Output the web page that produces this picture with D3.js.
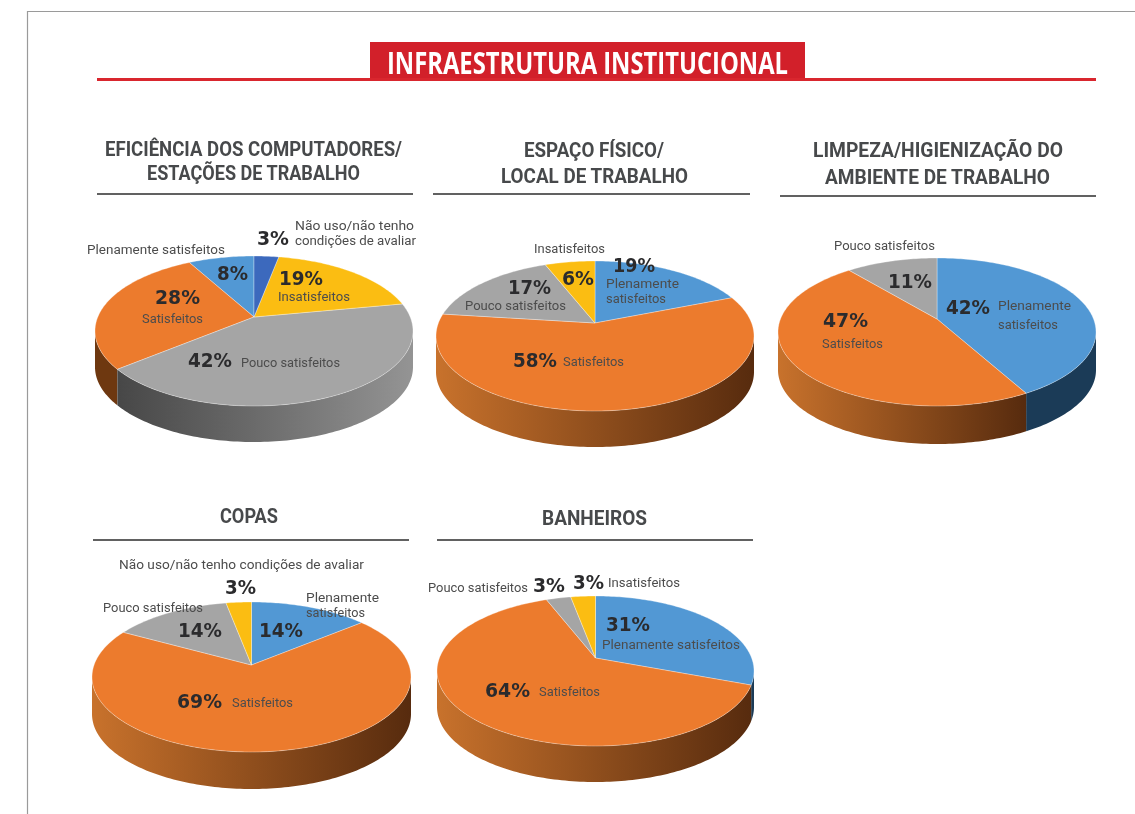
<!DOCTYPE html>
<html>
<head>
<meta charset="utf-8">
<script src="https://cdn.jsdelivr.net/npm/d3@7"></script>
<style>
  body { margin: 0; background: #fff; overflow: hidden; }
  #svg1 { filter: blur(0.4px); }
  .chart-title { font-family: Roboto, sans-serif; font-weight: 700; font-size: 20.5px; fill: #47494b; }
  .banner-title { font-family: "Open Sans", sans-serif; font-weight: 700; font-size: 30px; fill: #fff; }
  .pct { font-family: "DejaVu Sans", sans-serif; font-weight: 700; font-size: 20px; fill: #2b2b2d; }
  .name { font-family: Roboto, sans-serif; font-size: 12.5px; fill: #4c4c4c; }
</style>
</head>
<body>
<svg id="svg1" width="1135" height="814"></svg>
<script>
var bannerTitle = "INFRAESTRUTURA INSTITUCIONAL";

var PLENO = "Plenamente satisfeitos";
var SATISF = "Satisfeitos";
var POUCO = "Pouco satisfeitos";
var INSAT = "Insatisfeitos";
var NAOUSO = "Não uso/não tenho condições de avaliar";

var titles = [
  ["EFICIÊNCIA DOS COMPUTADORES/", "ESTAÇÕES DE TRABALHO"],
  ["ESPAÇO FÍSICO/", "LOCAL DE TRABALHO"],
  ["LIMPEZA/HIGIENIZAÇÃO DO", "AMBIENTE DE TRABALHO"],
  ["COPAS"],
  ["BANHEIROS"]
];

var categories = [
  [PLENO, SATISF, POUCO, INSAT, NAOUSO],
  [PLENO, SATISF, POUCO, INSAT],
  [PLENO, SATISF, POUCO],
  [PLENO, SATISF, POUCO, NAOUSO],
  [PLENO, SATISF, POUCO, INSAT]
];

var values = [
  [8, 28, 42, 19, 3],
  [19, 58, 17, 6],
  [42, 47, 11],
  [14, 69, 14, 3],
  [31, 64, 3, 3]
];

var palette = ["#5298d4", "#ec7b2d", "#a5a5a5", "#fbbd12", "#3c69bd"];

// layout of each pie: ellipse extremes and where the slices meet
var pies = [
  {left: 95, right: 413, top: 256, apex: 317, bottom: 406, depth: 36, dir: -1,
   rule: [97, 413, 194], titleBox: [[105, 402, 156], [147, 360, 180]]},
  {left: 436, right: 754, top: 261, apex: 323, bottom: 411, depth: 36, dir: 1,
   rule: [433, 750, 194], titleBox: [[524, 664, 157], [501, 688, 183]]},
  {left: 778, right: 1096, top: 258, apex: 319, bottom: 406, depth: 38, dir: 1,
   rule: [780, 1096, 196], titleBox: [[813, 1063, 157], [825, 1050, 184]]},
  {left: 92, right: 411, top: 602, apex: 665, bottom: 752, depth: 37, dir: 1,
   rule: [93, 409, 540], titleBox: [[220, 278, 523]]},
  {left: 437, right: 754, top: 596, apex: 658, bottom: 746, depth: 36, dir: 1,
   rule: [437, 753, 540], titleBox: [[542, 647, 525]]}
];

// percent label boxes, one per slice: x0, x1, baseline
var pctBoxes = [
  [[217, 248, 280], [155, 200, 304], [188, 232, 367], [279, 323, 285], [257, 289, 245]],
  [[613, 655, 272], [513, 557, 367], [508, 551, 294], [562, 594, 285]],
  [[946, 990, 314], [823, 868, 327], [888, 932, 288]],
  [[259, 303, 637], [177, 222, 708], [178, 222, 637], [225, 256, 594]],
  [[606, 650, 631], [485, 530, 697], [533, 565, 592], [573, 604, 589]]
];

// category name lines, one list per slice: text, x0, x1, baseline
var nameBoxes = [
  [[[PLENO, 87, 225, 254]], [[SATISF, 142, 203, 323]], [[POUCO, 241, 340, 367]], [[INSAT, 278, 350, 301]],
   [["Não uso/não tenho", 295, 414, 230], ["condições de avaliar", 295, 416, 245]]],
  [[["Plenamente", 606, 679, 288], ["satisfeitos", 606, 666, 303]], [[SATISF, 563, 624, 366]], [[POUCO, 465, 566, 310]], [[INSAT, 534, 605, 253]]],
  [[["Plenamente", 998, 1071, 310], ["satisfeitos", 998, 1058, 329]], [[SATISF, 822, 883, 348]], [[POUCO, 834, 935, 250]]],
  [[["Plenamente", 306, 379, 602], ["satisfeitos", 306, 365, 617]], [[SATISF, 232, 293, 707]], [[POUCO, 103, 203, 612]], [[NAOUSO, 119, 364, 569]]],
  [[[PLENO, 602, 740, 649]], [[SATISF, 539, 600, 696]], [[POUCO, 428, 528, 592]], [[INSAT, 608, 680, 587]]]
];

// side wall shading, left to right
var wallColors = {};
wallColors[PLENO] = ["#1b3b57", "#1b3b57"];
wallColors[SATISF] = ["#c8722c", "#572b0e"];
wallColors[POUCO] = ["#474747", "#949494"];
wallColors[INSAT] = ["#8a6a10", "#8a6a10"];
wallColors[NAOUSO] = ["#8a6a10", "#8a6a10"];
var flatOrange = ["#6e3810", "#6e3810"];

var svg = d3.select("#svg1");
var defs = svg.append("defs");
var color = d3.scaleOrdinal().domain(d3.range(5)).range(palette);

// page frame
svg.append("path")
  .attr("d", "M27.5,814V11.5H1135")
  .attr("fill", "none")
  .attr("stroke", "#9a9a9a")
  .attr("stroke-width", 1.2);

// banner
svg.append("rect").attr("x", 370).attr("y", 42).attr("width", 435).attr("height", 37).attr("fill", "#d2202a");
svg.append("rect").attr("x", 97).attr("y", 78).attr("width", 999).attr("height", 3).attr("fill", "#d9262e");
fitText(svg, "banner-title", bannerTitle, 387, 788, 74);

function fitText(parent, cls, text, x0, x1, y) {
  return parent.append("text")
    .attr("class", cls)
    .attr("x", x0)
    .attr("y", y)
    .attr("textLength", x1 - x0)
    .attr("lengthAdjust", "spacingAndGlyphs")
    .text(text);
}

function degToPoint(p, theta, dy) {
  var rx = (p.right - p.left) / 2;
  var cx = (p.right + p.left) / 2;
  var up = p.apex - p.top;
  var down = p.bottom - p.apex;
  // perspective of the tilted disc: near edge is larger than far edge
  var k = (down - up) / (down + up);
  var b = up * (1 + k);
  var r = rx * Math.sqrt(1 - k * k);
  var v = -Math.cos(theta);
  var w = 1 - k * v;
  return [cx + r * Math.sin(theta) / w, p.apex + b * v / w + dy];
}

function sampleAngles(a0, a1) {
  var n = Math.max(2, Math.ceil(Math.abs(a1 - a0) / 0.02));
  return d3.range(n + 1).map(function(i) { return a0 + (a1 - a0) * i / n; });
}

var line = d3.line();

pies.forEach(function(p, c) {
  var g = svg.append("g").attr("class", "pie-chart");

  titles[c].forEach(function(t, i) {
    var box = p.titleBox[i];
    fitText(g, "chart-title", t, box[0], box[1], box[2]);
  });

  g.append("line")
    .attr("x1", p.rule[0]).attr("x2", p.rule[1])
    .attr("y1", p.rule[2]).attr("y2", p.rule[2])
    .attr("stroke", "#2c2c2c")
    .attr("stroke-width", 1.5);

  var pie = d3.pie().sort(null).startAngle(0).endAngle(p.dir * 2 * Math.PI);
  var arcs = pie(values[c]);

  var up = p.apex - p.top, down = p.bottom - p.apex;
  var k = (down - up) / (down + up);
  var visible0 = Math.acos(-k);
  var visible1 = 2 * Math.PI - visible0;

  arcs.forEach(function(d, i) {
    var a0 = Math.min(d.startAngle, d.endAngle);
    var a1 = Math.max(d.startAngle, d.endAngle);
    if (a1 <= 0) { a0 += 2 * Math.PI; a1 += 2 * Math.PI; }

    // side wall
    var w0 = Math.max(a0, visible0);
    var w1 = Math.min(a1, visible1);
    if (w1 > w0) {
      var cat = categories[c][i];
      var stops = (c == 0 && cat == SATISF) ? flatOrange : wallColors[cat];
      var id = "wall-" + c + "-" + i;
      var grad = defs.append("linearGradient").attr("id", id);
      grad.append("stop").attr("offset", "0%").attr("stop-color", stops[0]);
      grad.append("stop").attr("offset", "100%").attr("stop-color", stops[1]);
      var ang = sampleAngles(w0, w1);
      var pts = ang.map(function(t) { return degToPoint(p, t, 0); })
        .concat(ang.slice().reverse().map(function(t) { return degToPoint(p, t, p.depth); }));
      g.append("path")
        .attr("d", line(pts) + "Z")
        .attr("fill", "url(#" + id + ")");
    }
  });

  arcs.forEach(function(d, i) {
    var a0 = Math.min(d.startAngle, d.endAngle);
    var a1 = Math.max(d.startAngle, d.endAngle);
    var pts = [[ (p.left + p.right) / 2, p.apex ]]
      .concat(sampleAngles(a0, a1).map(function(t) { return degToPoint(p, t, 0); }));
    g.append("path")
      .attr("d", line(pts) + "Z")
      .attr("fill", color(i))
      .attr("stroke", "#fff")
      .attr("stroke-opacity", 0.55)
      .attr("stroke-width", 0.6);
  });

  values[c].forEach(function(v, i) {
    var box = pctBoxes[c][i];
    fitText(g, "pct", v + "%", box[0], box[1], box[2]);
    nameBoxes[c][i].forEach(function(n) {
      fitText(g, "name", n[0], n[1], n[2], n[3]);
    });
  });
});
</script>
</body>
</html>
